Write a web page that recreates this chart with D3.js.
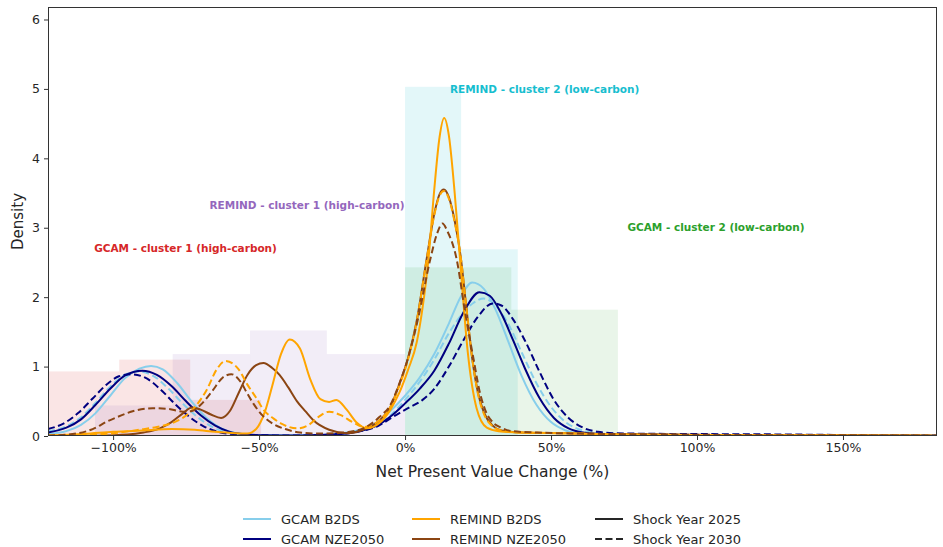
<!DOCTYPE html>
<html lang="en">
<head>
<meta charset="UTF-8">
<title>NPV change density</title>
<script src="https://cdn.jsdelivr.net/npm/d3@7"></script>
<style>
  body { margin: 0; background: #fff; font-family: "DejaVu Sans", sans-serif; }
  svg text { fill: #262626; }
</style>
</head>
<body>
<script>
// density curves, [npv change %, density]
let gcamB2ds2025 = [[-122.3,0.03],[-116,0.07],[-111,0.16],[-106,0.33],[-101,0.58],[-96,0.83],[-91,0.97],[-87,1.01],[-83,0.96],[-78,0.76],[-73,0.49],[-68,0.26],[-63,0.11],[-58,0.045],[-52,0.015],[-40,0.008],[-28,0.015],[-20,0.05],[-14,0.11],[-9,0.21],[-5,0.36],[0,0.58],[5,0.84],[10,1.18],[15,1.62],[19,2.0],[23,2.21],[27,2.12],[31,1.82],[35,1.4],[40,0.86],[45,0.45],[50,0.2],[55,0.08],[60,0.035],[70,0.02],[90,0.015],[130,0.01],[182.2,0.005]];
let gcamB2ds2030 = [[-122.3,0.07],[-116,0.14],[-111,0.27],[-106,0.48],[-101,0.71],[-96,0.88],[-91,0.93],[-86,0.86],[-81,0.68],[-76,0.46],[-71,0.27],[-66,0.13],[-61,0.055],[-55,0.02],[-45,0.008],[-30,0.01],[-20,0.04],[-13,0.1],[-8,0.2],[-5,0.3],[0,0.52],[5,0.78],[10,1.1],[15,1.48],[20,1.78],[23.5,1.92],[27,1.98],[31,1.88],[35,1.64],[40,1.2],[45,0.76],[50,0.42],[55,0.2],[60,0.09],[65,0.045],[75,0.025],[100,0.02],[140,0.012],[182.2,0.005]];
let gcamNze2025 = [[-122.3,0.05],[-116,0.12],[-111,0.24],[-106,0.45],[-101,0.68],[-96,0.87],[-90,0.94],[-85,0.88],[-80,0.72],[-75,0.5],[-70,0.3],[-65,0.15],[-60,0.06],[-55,0.025],[-48,0.01],[-35,0.008],[-25,0.02],[-18,0.05],[-12,0.11],[-8,0.19],[-5,0.28],[0,0.47],[5,0.68],[10,0.94],[15,1.33],[20,1.78],[25.5,2.07],[29,2.02],[33,1.76],[37,1.38],[41,0.98],[46,0.55],[51,0.26],[56,0.11],[61,0.05],[67,0.03],[80,0.02],[110,0.015],[150,0.01],[182.2,0.005]];
let gcamNze2030 = [[-122.3,0.1],[-117,0.18],[-112,0.33],[-107,0.54],[-102,0.75],[-98,0.86],[-94,0.89],[-89,0.84],[-84,0.68],[-79,0.47],[-74,0.28],[-69,0.14],[-64,0.06],[-58,0.025],[-50,0.01],[-35,0.008],[-22,0.03],[-15,0.07],[-9,0.15],[-4,0.28],[1,0.4],[6,0.52],[10,0.68],[15,1.0],[20,1.38],[25,1.72],[30,1.91],[33,1.88],[37,1.68],[41,1.38],[46,0.93],[51,0.52],[56,0.26],[61,0.12],[66,0.06],[72,0.04],[90,0.03],[120,0.025],[150,0.015],[182.2,0.006]];
let remindB2ds2025 = [[-122.3,0.01],[-110,0.03],[-100,0.06],[-90,0.08],[-80,0.1],[-72,0.09],[-65,0.06],[-58,0.04],[-54,0.035],[-51,0.1],[-48,0.35],[-45.5,0.72],[-42.5,1.18],[-39.5,1.39],[-36,1.26],[-32.5,0.82],[-29,0.53],[-26,0.49],[-23.5,0.52],[-20,0.38],[-16.5,0.19],[-13,0.11],[-9,0.18],[-5,0.38],[-2,0.62],[1,0.95],[4,1.35],[6,1.85],[8,2.54],[10,3.55],[11.8,4.3],[13.4,4.58],[15,4.33],[17,3.5],[19,2.45],[21.5,1.2],[24.5,0.4],[28,0.12],[32,0.07],[40,0.05],[55,0.04],[70,0.025],[100,0.015],[140,0.01],[182.2,0.005]];
let remindB2ds2030 = [[-122.3,0.005],[-110,0.02],[-100,0.04],[-91,0.09],[-85,0.13],[-79.5,0.19],[-74,0.33],[-68,0.66],[-64.5,0.96],[-61.5,1.08],[-57,0.96],[-54,0.74],[-51,0.55],[-48.5,0.38],[-45,0.25],[-42,0.17],[-37,0.11],[-33,0.16],[-29.5,0.28],[-26,0.35],[-22,0.3],[-18,0.2],[-14,0.13],[-9,0.22],[-5,0.42],[-2,0.72],[1,1.1],[4,1.65],[7.4,2.54],[10,3.18],[11.8,3.46],[13.3,3.53],[15,3.42],[17,3.08],[19,2.6],[21,1.85],[23,1.12],[25,0.6],[27,0.32],[30,0.14],[33,0.08],[40,0.05],[55,0.04],[70,0.025],[100,0.015],[140,0.01],[182.2,0.005]];
let remindNze2025 = [[-122.3,0],[-105,0.005],[-95,0.02],[-89.6,0.05],[-84,0.11],[-80,0.2],[-76,0.33],[-73,0.41],[-70,0.38],[-66.5,0.31],[-63,0.26],[-60,0.36],[-57,0.62],[-54,0.88],[-51,1.02],[-48.5,1.05],[-45.5,0.98],[-43,0.88],[-40,0.7],[-37,0.5],[-34,0.35],[-31.5,0.23],[-26,0.09],[-20,0.04],[-14.3,0.09],[-8.6,0.23],[-5,0.42],[-2,0.74],[1,1.12],[4,1.66],[7.4,2.55],[10,3.2],[11.8,3.48],[13.3,3.55],[15,3.44],[17,3.1],[19,2.6],[21,1.85],[23,1.12],[25,0.62],[27,0.34],[30,0.15],[33,0.08],[40,0.05],[55,0.04],[70,0.025],[100,0.015],[140,0.01],[182.2,0.005]];
let remindNze2030 = [[-122.3,0.005],[-112,0.04],[-107,0.1],[-102,0.21],[-97,0.3],[-93,0.36],[-86.4,0.4],[-81,0.39],[-76,0.35],[-73,0.36],[-70,0.45],[-66,0.65],[-62.5,0.84],[-59.5,0.89],[-56,0.76],[-54.4,0.64],[-52,0.47],[-48.7,0.29],[-45,0.17],[-41,0.1],[-36,0.05],[-30,0.035],[-24,0.04],[-19,0.06],[-14.3,0.11],[-8.6,0.28],[-5,0.45],[-2,0.75],[1,1.12],[4.5,1.7],[8.6,2.54],[11,2.92],[12.8,3.06],[14.5,2.95],[17.7,2.54],[20.5,1.8],[23.5,1.1],[25.5,0.65],[27.5,0.37],[30,0.2],[33,0.12],[36.6,0.07],[45,0.05],[60,0.035],[80,0.025],[110,0.015],[150,0.01],[182.2,0.005]];

// cluster histograms: bin edges (%) and densities
let gcamC1Edges = [-122.3, -97.9, -73.6, -49.3];
let gcamC1Heights = [0.93, 1.10, 0.52];
let remindC1Edges = [-106.2, -79.6, -53.1, -26.8, 0];
let remindC1Heights = [0.44, 1.18, 1.52, 1.18];
let remindC2Edges = [0, 19.2, 38.6];
let remindC2Heights = [5.03, 2.69];
let gcamC2Edges = [0, 36.4, 72.9];
let gcamC2Heights = [2.43, 1.82];

let clusterLabels = ["GCAM - cluster 1 (high-carbon)", "REMIND - cluster 1 (high-carbon)",
                     "REMIND - cluster 2 (low-carbon)", "GCAM - cluster 2 (low-carbon)"];
let clusterLabelX = [-75.2, -33.6, 47.8, 106.5];
let clusterLabelY = [2.71, 3.33, 5.0, 3.01];

let xTicks = [-100, -50, 0, 50, 100, 150];
let yTicks = [0, 1, 2, 3, 4, 5, 6];
let xDomain = [-122.3, 182.2];
let yDomain = [0, 6.18];

let width = 943, height = 547;
let margin = { top: 7, right: 6, bottom: 111, left: 48 };

let x = d3.scaleLinear().domain(xDomain).range([margin.left, width - margin.right]);
let y = d3.scaleLinear().domain(yDomain).range([height - margin.bottom, margin.top]);

let svg = d3.select("body").append("svg")
    .attr("width", width)
    .attr("height", height);

svg.append("defs").append("clipPath").attr("id", "plot")
    .append("rect")
    .attr("x", margin.left).attr("y", margin.top)
    .attr("width", width - margin.left - margin.right)
    .attr("height", height - margin.top - margin.bottom);

let plot = svg.append("g").attr("clip-path", "url(#plot)");

// histogram blocks behind the curves
function bins(edges, heights) {
    return heights.map((h, i) => ({ x0: edges[i], x1: edges[i + 1], h: h }));
}
let hists = [
    { bins: bins(gcamC1Edges, gcamC1Heights), color: "#d62728", op: 0.12 },
    { bins: bins(remindC1Edges, remindC1Heights), color: "#9467bd", op: 0.12 },
    { bins: bins(remindC2Edges, remindC2Heights), color: "#17becf", op: 0.12 },
    { bins: bins(gcamC2Edges, gcamC2Heights), color: "#2ca02c", op: 0.1 }
];
hists.forEach(hs => {
    plot.append("g").selectAll("rect")
        .data(hs.bins)
        .enter().append("rect")
        .attr("x", d => x(d.x0))
        .attr("width", d => x(d.x1) - x(d.x0))
        .attr("y", d => y(d.h))
        .attr("height", d => y(0) - y(d.h))
        .attr("fill", hs.color)
        .attr("fill-opacity", hs.op);
});

// curves
let series = [
    { data: gcamB2ds2025, color: "#87ceeb", dash: null },
    { data: gcamB2ds2030, color: "#87ceeb", dash: "7,3.5" },
    { data: gcamNze2025, color: "#000080", dash: null },
    { data: gcamNze2030, color: "#000080", dash: "7,3.5" },
    { data: remindNze2025, color: "#8b4513", dash: null },
    { data: remindB2ds2025, color: "#ffa500", dash: null },
    { data: remindB2ds2030, color: "#ffa500", dash: "7,3.5" },
    { data: remindNze2030, color: "#8b4513", dash: "7,3.5" }
];

let line = d3.line()
    .x(d => x(d[0]))
    .y(d => y(d[1]))
    .curve(d3.curveMonotoneX);

plot.selectAll("path.kde")
    .data(series)
    .enter().append("path")
    .attr("class", "kde")
    .attr("d", d => line(d.data))
    .attr("fill", "none")
    .attr("stroke", d => d.color)
    .attr("stroke-width", 2)
    .attr("stroke-dasharray", d => d.dash);

// cluster labels
let labelColors = ["#d62728", "#9467bd", "#17becf", "#2ca02c"];
svg.append("g").selectAll("text")
    .data(clusterLabels)
    .enter().append("text")
    .attr("x", (d, i) => x(clusterLabelX[i]))
    .attr("y", (d, i) => y(clusterLabelY[i]))
    .attr("text-anchor", "middle")
    .attr("dominant-baseline", "central")
    .style("font-size", "10.5px")
    .style("font-weight", "bold")
    .style("fill", (d, i) => labelColors[i])
    .text(d => d);

// axes
let xAxis = d3.axisBottom(x)
    .tickValues(xTicks)
    .tickFormat(d => d3.format(".0f")(d) + "%")
    .tickSize(4)
    .tickPadding(3);
let yAxis = d3.axisLeft(y)
    .tickValues(yTicks)
    .tickFormat(d3.format("d"))
    .tickSize(4)
    .tickPadding(4);

let gx = svg.append("g")
    .attr("transform", "translate(0," + (height - margin.bottom) + ")")
    .call(xAxis);
let gy = svg.append("g")
    .attr("transform", "translate(" + margin.left + ",0)")
    .call(yAxis);
[gx, gy].forEach(g => {
    g.select(".domain").remove();
    g.selectAll(".tick line").attr("stroke", "#333");
    g.selectAll(".tick text").style("font-size", "12.5px").style("font-family", "DejaVu Sans").attr("fill", "#262626");
});

// frame
svg.append("rect")
    .attr("x", margin.left + 0.5).attr("y", margin.top + 0.5)
    .attr("width", width - margin.left - margin.right - 1)
    .attr("height", height - margin.top - margin.bottom - 1)
    .attr("fill", "none")
    .attr("stroke", "#333")
    .attr("stroke-width", 1);

svg.append("text")
    .attr("x", (margin.left + width - margin.right) / 2)
    .attr("y", height - margin.bottom + 41)
    .attr("text-anchor", "middle")
    .style("font-size", "15.5px")
    .text("Net Present Value Change (%)");

svg.append("text")
    .attr("transform", "translate(18," + (margin.top + height - margin.bottom) / 2 + ") rotate(-90)")
    .attr("text-anchor", "middle")
    .attr("dominant-baseline", "central")
    .style("font-size", "15px")
    .text("Density");

// legend, 3 columns x 2 rows
let legendItems = [
    { label: "GCAM B2DS", color: "#87ceeb", dash: null },
    { label: "GCAM NZE2050", color: "#000080", dash: null },
    { label: "REMIND B2DS", color: "#ffa500", dash: null },
    { label: "REMIND NZE2050", color: "#8b4513", dash: null },
    { label: "Shock Year 2025", color: "#262626", dash: null },
    { label: "Shock Year 2030", color: "#262626", dash: "7,3.5" }
];
let colX = [243, 412, 595];
let rowY = [519, 539];
let leg = svg.append("g").selectAll("g")
    .data(legendItems)
    .enter().append("g")
    .attr("transform", (d, i) => "translate(" + colX[Math.floor(i / 2)] + "," + rowY[i % 2] + ")");
leg.append("line")
    .attr("x1", 0).attr("x2", 28)
    .attr("stroke", d => d.color)
    .attr("stroke-width", 2)
    .attr("stroke-dasharray", d => d.dash);
leg.append("text")
    .attr("x", 38)
    .attr("dominant-baseline", "central")
    .style("font-size", "13px")
    .text(d => d.label);
</script>
</body>
</html>
